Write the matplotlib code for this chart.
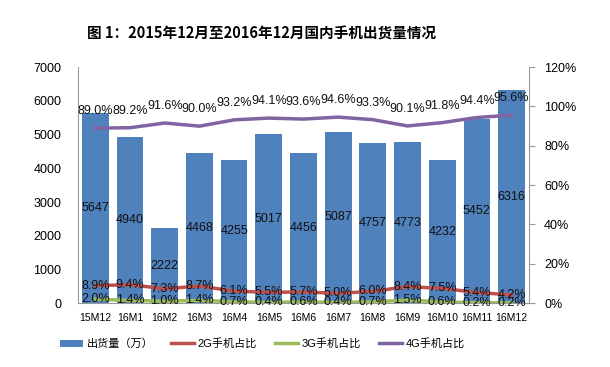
import matplotlib.pyplot as plt
import numpy as np

plt.rcParams['font.family'] = ['Liberation Sans', 'Noto Sans CJK SC', 'DejaVu Sans']

months = ['15M12', '16M1', '16M2', '16M3', '16M4', '16M5', '16M6',
          '16M7', '16M8', '16M9', '16M10', '16M11', '16M12']
shipments = [5647, 4940, 2222, 4468, 4255, 5017, 4456, 5087, 4757, 4773, 4232, 5452, 6316]
share_2g = [8.9, 9.4, 7.3, 8.7, 6.1, 5.5, 5.7, 5.0, 6.0, 8.4, 7.5, 5.4, 4.2]
share_3g = [2.0, 1.4, 1.0, 1.4, 0.7, 0.4, 0.6, 0.4, 0.7, 1.5, 0.6, 0.2, 0.2]
share_4g = [89.0, 89.2, 91.6, 90.0, 93.2, 94.1, 93.6, 94.6, 93.3, 90.1, 91.8, 94.4, 95.6]

blue, red, green, purple = '#4F81BD', '#C0504D', '#9BBB59', '#8064A2'

fig = plt.figure(figsize=(6.1, 3.67), dpi=100)
ax = fig.add_axes([0.128, 0.174, 0.739, 0.643])
x = np.arange(len(months))

bars = ax.bar(x, shipments, width=0.77, color=blue, label='出货量（万）', zorder=1)
ax.set_xlim(-0.5, len(months) - 0.5)
ax.set_ylim(0, 7000)
ax.set_yticks(range(0, 7001, 1000))
ax.set_xticks(x)
ax.set_xticklabels(months, fontsize=7.5)
ax.tick_params(axis='y', labelsize=9, length=0, pad=12)
ax.tick_params(axis='x', length=0, pad=7)
for s in ['top', 'right']:
    ax.spines[s].set_visible(False)
for s in ['left', 'bottom']:
    ax.spines[s].set_color('#999999')

for xi, v in zip(x, shipments):
    ax.text(xi, v / 2, str(v), ha='center', va='center', fontsize=9, color='#111111', zorder=5)

ax2 = ax.twinx()
ax2.set_ylim(0, 120)
ax2.set_yticks(range(0, 121, 20))
ax2.set_yticklabels([f'{t}%' for t in range(0, 121, 20)])
ax2.tick_params(axis='y', labelsize=9, length=4, color='#999999', pad=7)
for s in ['top', 'left', 'bottom']:
    ax2.spines[s].set_visible(False)
ax2.spines['right'].set_color('#999999')

l2, = ax2.plot(x, share_2g, color=red, lw=2.5, label='2G手机占比')
l3, = ax2.plot(x, share_3g, color=green, lw=2.5, label='3G手机占比')
l4, = ax2.plot(x, share_4g, color=purple, lw=2.5, label='4G手机占比')

for xi, v in zip(x, share_2g):
    ax2.text(xi, v, f'{v:.1f}%', ha='center', va='center', fontsize=9, color='#111111')
for xi, v in zip(x, share_3g):
    ax2.text(xi, v, f'{v:.1f}%', ha='center', va='center', fontsize=9, color='#111111')
for xi, v in zip(x, share_4g):
    ax2.annotate(f'{v:.1f}%', (xi, v), xytext=(0, 12), textcoords='offset points',
                 ha='center', va='center', fontsize=9, color='#111111')

fig.text(0.428, 0.91, '图 1：2015年12月至2016年12月国内手机出货量情况',
         ha='center', va='center', fontsize=10.5, fontweight='bold',
         family=['Noto Sans CJK SC', 'DejaVu Sans'])

fig.legend([bars, l2, l3, l4], ['出货量（万）', '2G手机占比', '3G手机占比', '4G手机占比'],
           loc='center', bbox_to_anchor=(0.43, 0.063), ncol=4, frameon=False,
           fontsize=8, handlelength=2.1, handletextpad=0.3, columnspacing=1.6)

fig.savefig('out.png', dpi=100)
